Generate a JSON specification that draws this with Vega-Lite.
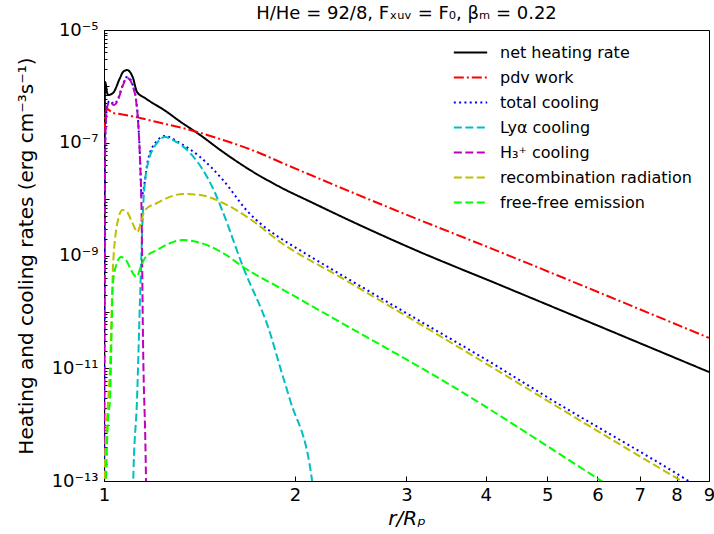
{
"$schema":"https://vega.github.io/schema/vega-lite/v6.json",
"width":605,"height":451,
"autosize":{"type":"none"},
"padding":{"left":104,"top":30,"right":5,"bottom":53},
"title":{"text":"H/He = 92/8, Fₓᵤᵥ = F₀, βₘ = 0.22","fontSize":18,"font":"DejaVu Sans","fontWeight":"normal","offset":8,"dy":10,"frame":"group","color":"black"},
"config":{"view":{"stroke":"black","strokeWidth":1},"font":"DejaVu Sans",
"axis":{"grid":false,"domainColor":"black","tickColor":"black","labelColor":"black","titleColor":"black","labelFont":"DejaVu Sans","titleFont":"DejaVu Sans","titleFontWeight":"normal","labelFlush":false}},
"data":{"values":[
{"series":"net heating rate","r":1.0,"rate":1e-14},
{"series":"net heating rate","r":1.0036,"rate":1.196e-6},
{"series":"net heating rate","r":1.0146,"rate":7.03e-7},
{"series":"net heating rate","r":1.0332,"rate":7.63e-7},
{"series":"net heating rate","r":1.0598,"rate":1.41e-6},
{"series":"net heating rate","r":1.0714,"rate":1.80e-6},
{"series":"net heating rate","r":1.0871,"rate":1.951e-6},
{"series":"net heating rate","r":1.1111,"rate":1.41e-6},
{"series":"net heating rate","r":1.1273,"rate":7.95e-7},
{"series":"net heating rate","r":1.1606,"rate":6.22e-7},
{"series":"net heating rate","r":1.2573,"rate":3.51e-7},
{"series":"net heating rate","r":1.3083,"rate":2.53e-7},
{"series":"net heating rate","r":1.4176,"rate":1.373e-7},
{"series":"net heating rate","r":1.5411,"rate":6.85e-8},
{"series":"net heating rate","r":1.6998,"rate":3.28e-8},
{"series":"net heating rate","r":1.8953,"rate":1.64e-8},
{"series":"net heating rate","r":2.1362,"rate":8.54e-9},
{"series":"net heating rate","r":2.4702,"rate":3.93e-9},
{"series":"net heating rate","r":3.0716,"rate":1.304e-9},
{"series":"net heating rate","r":4.2125,"rate":3.0e-10},
{"series":"net heating rate","r":9.0,"rate":8.58e-12},
{"series":"pdv work","r":1.0,"rate":1.55e-7},
{"series":"pdv work","r":1.0036,"rate":3.11e-7},
{"series":"pdv work","r":1.011,"rate":3.97e-7},
{"series":"pdv work","r":1.0332,"rate":3.37e-7},
{"series":"pdv work","r":1.0598,"rate":3.24e-7},
{"series":"pdv work","r":1.1397,"rate":2.75e-7},
{"series":"pdv work","r":1.2123,"rate":2.33e-7},
{"series":"pdv work","r":1.3667,"rate":1.684e-7},
{"series":"pdv work","r":1.5411,"rate":1.119e-7},
{"series":"pdv work","r":1.7435,"rate":6.85e-8},
{"series":"pdv work","r":1.8953,"rate":4.56e-8},
{"series":"pdv work","r":2.8257,"rate":6.96e-9},
{"series":"pdv work","r":4.2125,"rate":1.154e-9},
{"series":"pdv work","r":9.0,"rate":3.45e-11},
{"series":"total cooling","r":1.0,"rate":1e-14},
{"series":"total cooling","r":1.0036,"rate":5.2e-8},
{"series":"total cooling","r":1.0073,"rate":2.66e-7},
{"series":"total cooling","r":1.0146,"rate":5.1e-7},
{"series":"total cooling","r":1.022,"rate":5.55e-7},
{"series":"total cooling","r":1.037,"rate":4.9e-7},
{"series":"total cooling","r":1.0521,"rate":6.0e-7},
{"series":"total cooling","r":1.0675,"rate":9.8e-7},
{"series":"total cooling","r":1.0871,"rate":1.47e-6},
{"series":"total cooling","r":1.099,"rate":1.36e-6},
{"series":"total cooling","r":1.1111,"rate":1.02e-6},
{"series":"total cooling","r":1.1232,"rate":6.0e-7},
{"series":"total cooling","r":1.1314,"rate":2.66e-7},
{"series":"total cooling","r":1.1397,"rate":5.6e-8},
{"series":"total cooling","r":1.146,"rate":1.1e-8},
{"series":"total cooling","r":1.1543,"rate":1.5e-8},
{"series":"total cooling","r":1.1733,"rate":5.0e-8},
{"series":"total cooling","r":1.2123,"rate":1.08e-7},
{"series":"total cooling","r":1.2482,"rate":1.317e-7},
{"series":"total cooling","r":1.3083,"rate":1.031e-7},
{"series":"total cooling","r":1.4176,"rate":5.59e-8},
{"series":"total cooling","r":1.5411,"rate":2.18e-8},
{"series":"total cooling","r":1.6814,"rate":6.2e-9},
{"series":"total cooling","r":1.8953,"rate":2.04e-9},
{"series":"total cooling","r":1.9869,"rate":1.474e-9},
{"series":"total cooling","r":3.0716,"rate":8.11e-11},
{"series":"total cooling","r":4.0623,"rate":1.29e-11},
{"series":"total cooling","r":4.9967,"rate":3.09e-12},
{"series":"total cooling","r":8.3087,"rate":1.04e-13},
{"series":"total cooling","r":9.0,"rate":5.9e-14},
{"series":"Lyα cooling","r":1.105,"rate":1e-15},
{"series":"Lyα cooling","r":1.112,"rate":1.0e-13},
{"series":"Lyα cooling","r":1.1273,"rate":2.74e-12},
{"series":"Lyα cooling","r":1.1397,"rate":1.624e-10},
{"series":"Lyα cooling","r":1.1543,"rate":9.65e-9},
{"series":"Lyα cooling","r":1.1733,"rate":4.37e-8},
{"series":"Lyα cooling","r":1.2123,"rate":9.9e-8},
{"series":"Lyα cooling","r":1.2482,"rate":1.265e-7},
{"series":"Lyα cooling","r":1.2848,"rate":1.118e-7},
{"series":"Lyα cooling","r":1.3667,"rate":6.58e-8},
{"series":"Lyα cooling","r":1.4541,"rate":2.47e-8},
{"series":"Lyα cooling","r":1.497,"rate":1.284e-8},
{"series":"Lyα cooling","r":1.5355,"rate":6.41e-9},
{"series":"Lyα cooling","r":1.6572,"rate":6.25e-10},
{"series":"Lyα cooling","r":1.8277,"rate":4.22e-11},
{"series":"Lyα cooling","r":1.8953,"rate":1.052e-11},
{"series":"Lyα cooling","r":1.9654,"rate":2.74e-12},
{"series":"Lyα cooling","r":2.1285,"rate":1.04e-13},
{"series":"Lyα cooling","r":2.2,"rate":1e-15},
{"series":"H₃⁺ cooling","r":1.0,"rate":1e-15},
{"series":"H₃⁺ cooling","r":1.0036,"rate":4.94e-8},
{"series":"H₃⁺ cooling","r":1.0073,"rate":2.53e-7},
{"series":"H₃⁺ cooling","r":1.0146,"rate":4.87e-7},
{"series":"H₃⁺ cooling","r":1.022,"rate":5.28e-7},
{"series":"H₃⁺ cooling","r":1.037,"rate":4.67e-7},
{"series":"H₃⁺ cooling","r":1.0521,"rate":5.73e-7},
{"series":"H₃⁺ cooling","r":1.0675,"rate":9.36e-7},
{"series":"H₃⁺ cooling","r":1.0871,"rate":1.408e-6},
{"series":"H₃⁺ cooling","r":1.099,"rate":1.297e-6},
{"series":"H₃⁺ cooling","r":1.1111,"rate":9.75e-7},
{"series":"H₃⁺ cooling","r":1.1232,"rate":5.73e-7},
{"series":"H₃⁺ cooling","r":1.1314,"rate":2.53e-7},
{"series":"H₃⁺ cooling","r":1.1397,"rate":4.94e-8},
{"series":"H₃⁺ cooling","r":1.146,"rate":6.41e-9},
{"series":"H₃⁺ cooling","r":1.1522,"rate":3.17e-11},
{"series":"H₃⁺ cooling","r":1.1647,"rate":1.04e-13},
{"series":"H₃⁺ cooling","r":1.17,"rate":1e-15},
{"series":"recombination radiation","r":1.0,"rate":1e-15},
{"series":"recombination radiation","r":1.0018,"rate":1e-13},
{"series":"recombination radiation","r":1.011,"rate":1.21e-12},
{"series":"recombination radiation","r":1.022,"rate":1.052e-11},
{"series":"recombination radiation","r":1.0332,"rate":6.25e-10},
{"series":"recombination radiation","r":1.0426,"rate":2.31e-9},
{"series":"recombination radiation","r":1.0521,"rate":4.26e-9},
{"series":"recombination radiation","r":1.0694,"rate":6.41e-9},
{"series":"recombination radiation","r":1.0871,"rate":5.91e-9},
{"series":"recombination radiation","r":1.107,"rate":3.93e-9},
{"series":"recombination radiation","r":1.1293,"rate":2.61e-9},
{"series":"recombination radiation","r":1.1439,"rate":3.93e-9},
{"series":"recombination radiation","r":1.1606,"rate":6.41e-9},
{"series":"recombination radiation","r":1.2123,"rate":8.54e-9},
{"series":"recombination radiation","r":1.3323,"rate":1.233e-8},
{"series":"recombination radiation","r":1.4176,"rate":1.184e-8},
{"series":"recombination radiation","r":1.5411,"rate":8.54e-9},
{"series":"recombination radiation","r":1.6998,"rate":4.44e-9},
{"series":"recombination radiation","r":1.8953,"rate":1.737e-9},
{"series":"recombination radiation","r":2.3563,"rate":4.16e-10},
{"series":"recombination radiation","r":3.0716,"rate":7.18e-11},
{"series":"recombination radiation","r":8.1,"rate":1.04e-13},
{"series":"recombination radiation","r":9.0,"rate":5.2e-14},
{"series":"free-free emission","r":1.0,"rate":1e-15},
{"series":"free-free emission","r":1.0073,"rate":1e-13},
{"series":"free-free emission","r":1.0146,"rate":1.21e-12},
{"series":"free-free emission","r":1.022,"rate":2.74e-12},
{"series":"free-free emission","r":1.0332,"rate":3.25e-10},
{"series":"free-free emission","r":1.0455,"rate":6.78e-10},
{"series":"free-free emission","r":1.0637,"rate":9.41e-10},
{"series":"free-free emission","r":1.0832,"rate":8.32e-10},
{"series":"free-free emission","r":1.103,"rate":5.53e-10},
{"series":"free-free emission","r":1.1252,"rate":4.16e-10},
{"series":"free-free emission","r":1.1439,"rate":6.51e-10},
{"series":"free-free emission","r":1.1606,"rate":9.03e-10},
{"series":"free-free emission","r":1.2123,"rate":1.252e-9},
{"series":"free-free emission","r":1.3323,"rate":1.88e-9},
{"series":"free-free emission","r":1.4022,"rate":1.736e-9},
{"series":"free-free emission","r":1.5411,"rate":1.107e-9},
{"series":"free-free emission","r":1.6572,"rate":6.25e-10},
{"series":"free-free emission","r":1.8953,"rate":2.65e-10},
{"series":"free-free emission","r":2.3563,"rate":6.61e-11},
{"series":"free-free emission","r":3.4754,"rate":5.47e-12},
{"series":"free-free emission","r":6.0577,"rate":1.04e-13},
{"series":"free-free emission","r":9.0,"rate":6e-15}
]},
"layer":[
{"mark":{"type":"line","strokeWidth":2,"clip":true,"interpolate":"monotone"},
 "encoding":{
  "x":{"field":"r","type":"quantitative","scale":{"type":"log","domain":[1,9],"nice":false},
       "axis":{"values":[1,2,3,4,5,6,7,8,9],"format":"d","title":"r/Rₚ","titleFontStyle":"italic","titleFontSize":20,"labelFontSize":18,"tickSize":-5,"labelPadding":10,"titlePadding":4,"domainColor":"black","labelFlush":false}},
  "y":{"field":"rate","type":"quantitative","scale":{"type":"log","domain":[1e-13,1e-5],"nice":false},
       "axis":{"orient":"left","values":[1e-13,1e-12,1e-11,1e-10,1e-9,1e-8,1e-7,1e-6,1e-5],"labelFlush":false,
         "labelExpr":"abs(datum.value/1e-13-1)<0.01 ? '10⁻¹³' : abs(datum.value/1e-11-1)<0.01 ? '10⁻¹¹' : abs(datum.value/1e-9-1)<0.01 ? '10⁻⁹' : abs(datum.value/1e-7-1)<0.01 ? '10⁻⁷' : abs(datum.value/1e-5-1)<0.01 ? '10⁻⁵' : ''",
         "title":"Heating and cooling rates (erg cm⁻³s⁻¹)","titleFontSize":20,"labelFontSize":18,"tickSize":-5,"labelPadding":11,"titlePadding":15}},
  "color":{"field":"series","type":"nominal",
    "scale":{"domain":["net heating rate","pdv work","total cooling","Lyα cooling","H₃⁺ cooling","recombination radiation","free-free emission"],
             "range":["#000000","#ff0000","#0000ff","#00bfbf","#bf00bf","#bfbf00","#00ff00"]},
    "legend":{"title":null,"orient":"none","legendX":354,"legendY":10,"symbolType":"M-1.45,0H1.45","symbolSize":529,"symbolStrokeWidth":2,"labelFontSize":16,"labelFont":"DejaVu Sans","labelColor":"black","labelOffset":17,"rowPadding":4,"padding":0,"labelLimit":300,"labelExpr":"datum.label == 'H₃⁺ cooling' ? '\u00a0H₃⁺ cooling' : datum.label"}},
  "strokeDash":{"field":"series","type":"nominal",
    "scale":{"domain":["net heating rate","pdv work","total cooling","Lyα cooling","H₃⁺ cooling","recombination radiation","free-free emission"],
             "range":[[1,0],[10,3,2,3],[2,3.3],[8,3.5],[8,3.5],[8,3.5],[8,3.5]]},
    "legend":{"title":null,"orient":"none","legendX":354,"legendY":10,"symbolType":"M-1.45,0H1.45","symbolSize":529,"symbolStrokeWidth":2,"labelFontSize":16,"labelFont":"DejaVu Sans","labelColor":"black","labelOffset":17,"rowPadding":4,"padding":0,"labelLimit":300,"labelExpr":"datum.label == 'H₃⁺ cooling' ? '\u00a0H₃⁺ cooling' : datum.label"}}
 }},
{"mark":{"type":"line","strokeOpacity":0,"clip":true},
 "encoding":{
  "x":{"field":"r","type":"quantitative","scale":{"type":"log","domain":[1,9],"nice":false}},
  "y":{"field":"rate","type":"quantitative","scale":{"type":"log","domain":[1e-13,1e-5],"nice":false},
       "axis":{"orient":"left","values":[2e-13,3e-13,4e-13,5e-13,6e-13,7e-13,8e-13,9e-13,2e-12,3e-12,4e-12,5e-12,6e-12,7e-12,8e-12,9e-12,2e-11,3e-11,4e-11,5e-11,6e-11,7e-11,8e-11,9e-11,2e-10,3e-10,4e-10,5e-10,6e-10,7e-10,8e-10,9e-10,2e-9,3e-9,4e-9,5e-9,6e-9,7e-9,8e-9,9e-9,2e-8,3e-8,4e-8,5e-8,6e-8,7e-8,8e-8,9e-8,2e-7,3e-7,4e-7,5e-7,6e-7,7e-7,8e-7,9e-7,2e-6,3e-6,4e-6,5e-6,6e-6,7e-6,8e-6,9e-6],
         "labels":false,"domain":false,"title":null,"tickSize":-3}}
 }}
],
"resolve":{"axis":{"y":"independent"}}
}
